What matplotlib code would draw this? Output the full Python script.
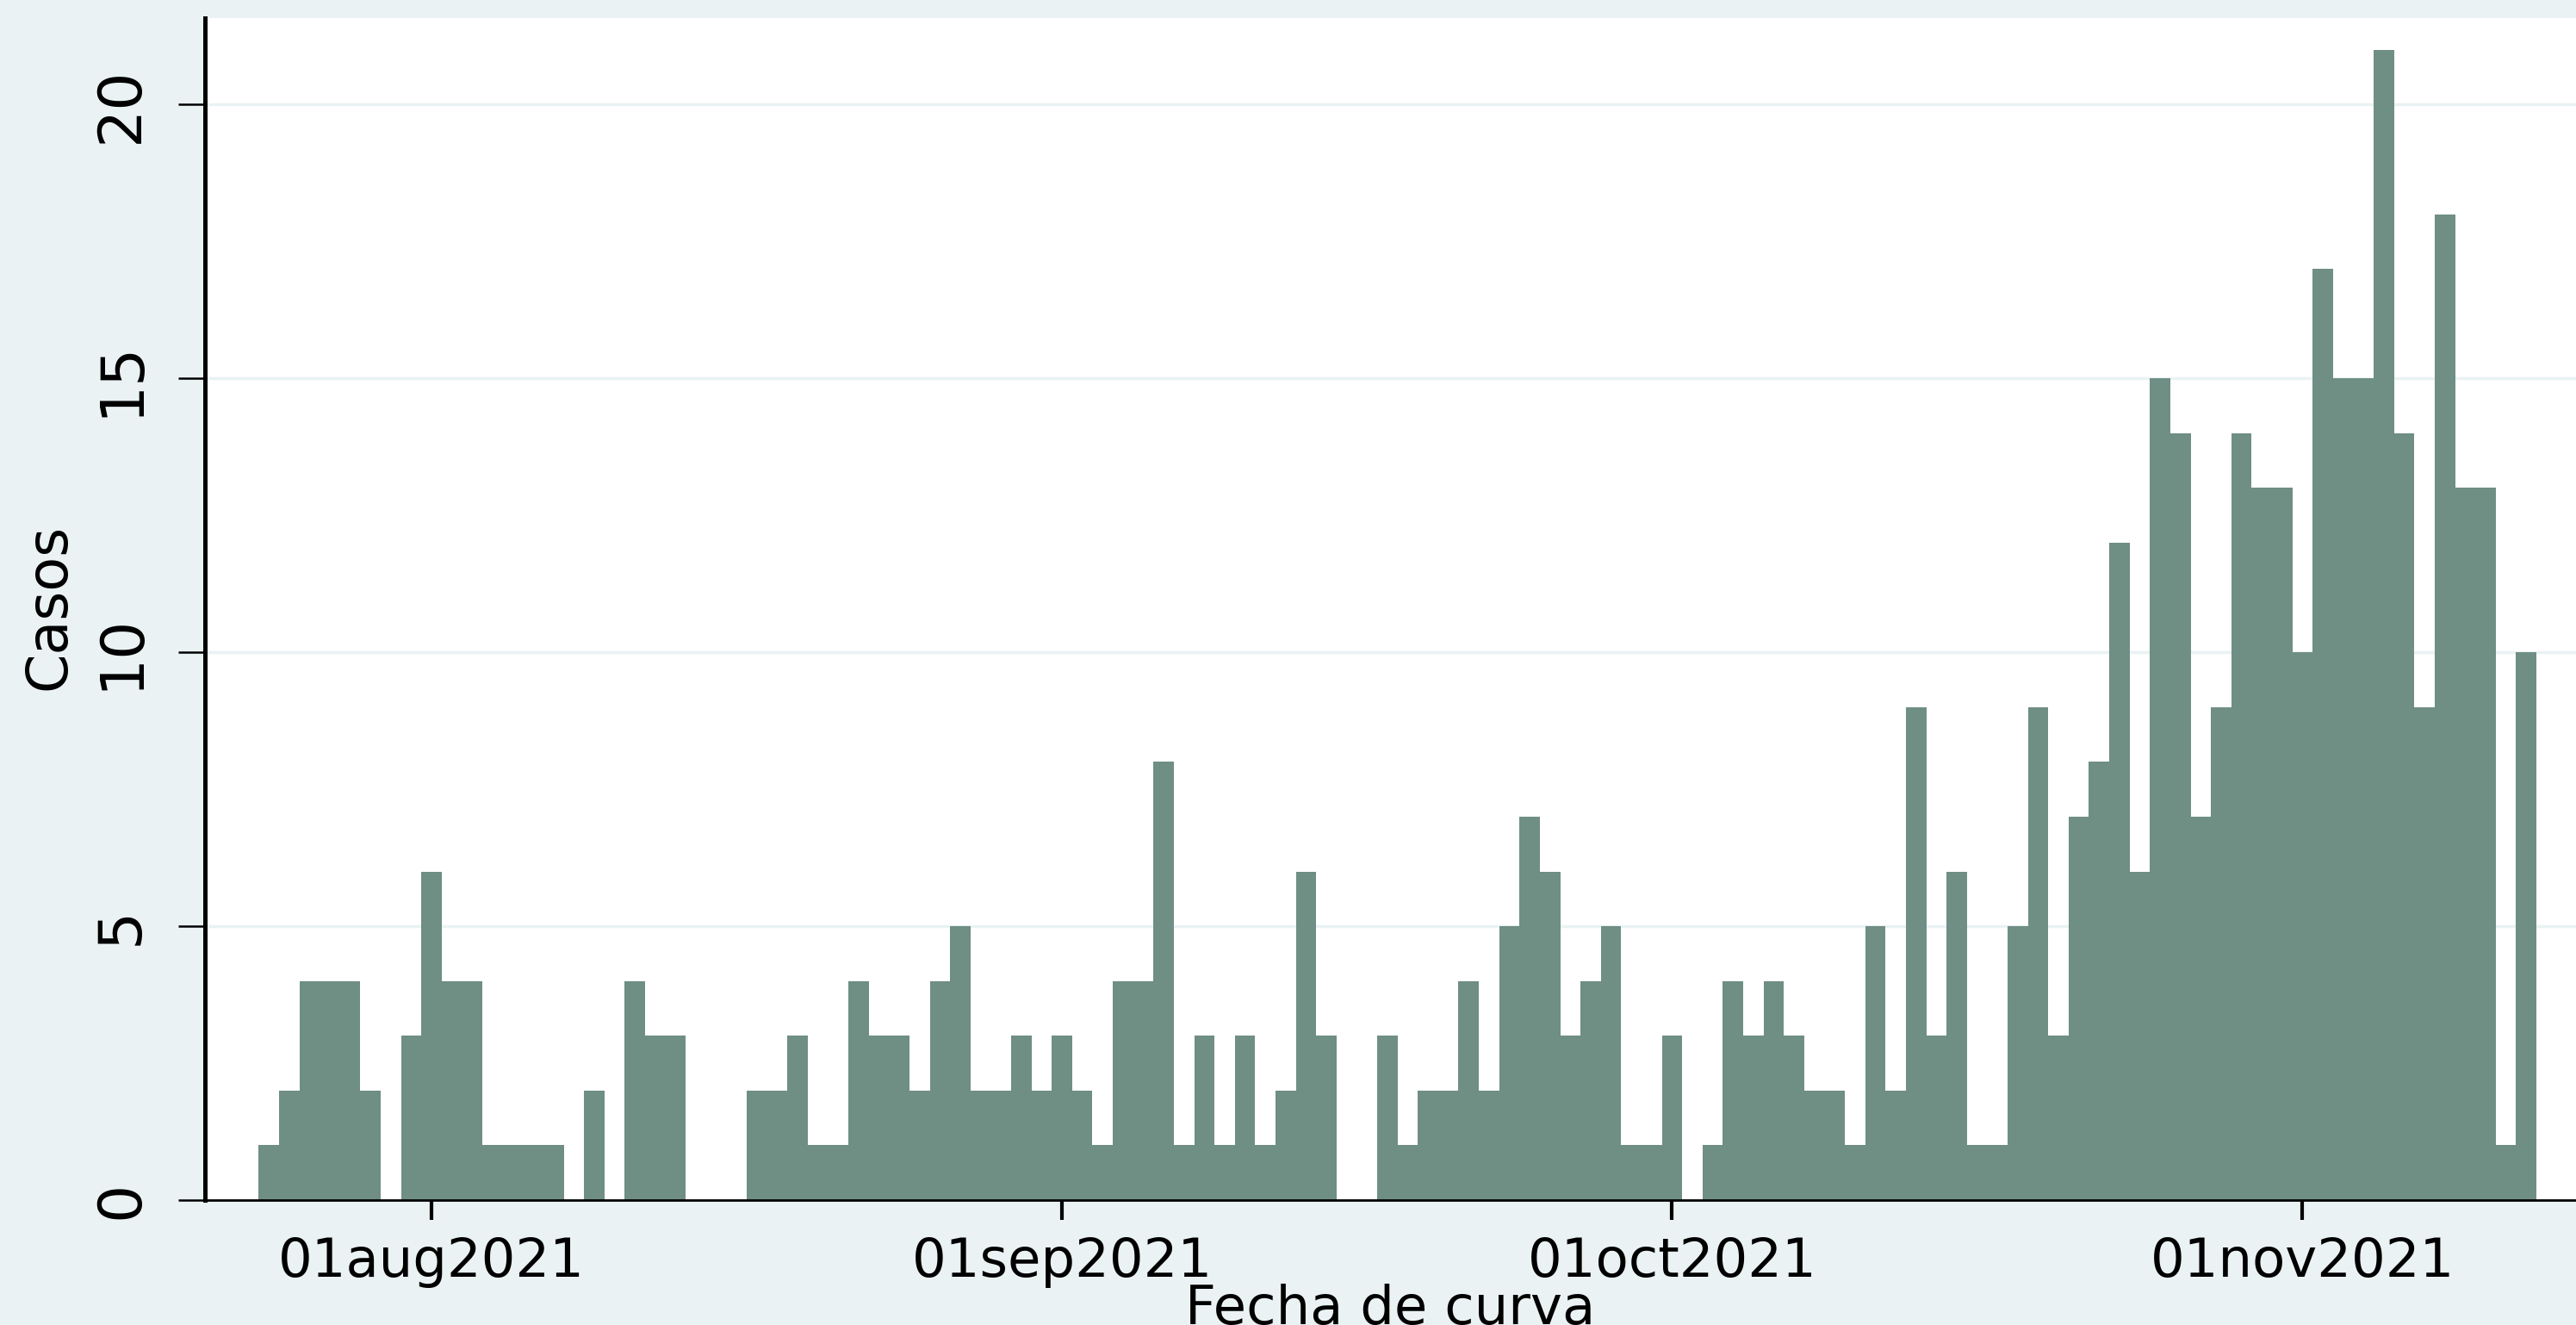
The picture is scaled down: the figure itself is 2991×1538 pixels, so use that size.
import datetime as dt
import matplotlib
matplotlib.use("Agg")
import matplotlib.pyplot as plt
import matplotlib.dates as mdates

# daily cases, 24jul2021 .. 12nov2021
first_day = dt.date(2021, 7, 24)
casos = [1, 2, 4, 4, 4, 2, 0, 3,                       # jul 24-31
         6, 4, 4, 1, 1, 1, 1, 0, 2, 0, 4, 3, 3, 0, 0, 0,  # aug 1-16
         2, 2, 3, 1, 1, 4, 3, 3, 2, 4, 5, 2, 2, 3, 2,     # aug 17-31
         3, 2, 1, 4, 4, 8, 1, 3, 1, 3, 1, 2, 6, 3, 0,     # sep 1-15
         0, 3, 1, 2, 2, 4, 2, 5, 7, 6, 3, 4, 5, 1, 1,     # sep 16-30
         3, 0, 1, 4, 3, 4, 3, 2, 2, 1, 5, 2, 9, 3, 6,     # oct 1-15
         1, 1, 5, 9, 3, 7, 8, 12, 6, 15, 14, 7, 9, 14, 13, 13,  # oct 16-31
         10, 17, 15, 15, 21, 14, 9, 18, 13, 13, 1, 10]    # nov 1-12
fechas = [first_day + dt.timedelta(days=i) for i in range(len(casos))]

tick_dates = [dt.date(2021, 8, 1), dt.date(2021, 9, 1), dt.date(2021, 10, 1), dt.date(2021, 11, 1)]
tick_labels = ["01aug2021", "01sep2021", "01oct2021", "01nov2021"]
y_ticks = [0, 5, 10, 15, 20]

bg = "#eaf2f3"
bar_color = "#6f8e84"

W, H = 2991, 1538
fig = plt.figure(figsize=(W / 100, H / 100), dpi=100, facecolor=bg)
ax = fig.add_axes([238 / W, 145 / H, (W - 238) / W, (1393 - 21) / H])
ax.set_facecolor("white")

ax.bar(fechas, casos, width=1.0, color=bar_color, linewidth=0, zorder=2)

ax.set_xlim(mdates.date2num(dt.date(2021, 8, 1)) - 11.14,
            mdates.date2num(dt.date(2021, 8, 1)) + 105.45)
ax.set_ylim(0, 21.58)

ax.set_yticks(y_ticks)
ax.set_yticklabels([str(v) for v in y_ticks], rotation=90, va="center", fontsize=50)
ax.yaxis.grid(True, color=bg, linewidth=2.5, zorder=0)
ax.set_axisbelow(True)
ax.set_xticks(tick_dates)
ax.set_xticklabels(tick_labels, fontsize=45)

ax.tick_params(axis="y", length=22, width=1.8, pad=24, color="black")
ax.tick_params(axis="x", length=16.5, width=3, pad=14, color="black")

for s in ("top", "right"):
    ax.spines[s].set_visible(False)
ax.spines["left"].set_linewidth(3.6)
ax.spines["bottom"].set_linewidth(2)
ax.spines["left"].set_zorder(3)
ax.spines["bottom"].set_zorder(3)

fig.text(57 / W, 1 - 704 / H, "Casos", rotation=90, ha="center", va="center", fontsize=47)
fig.text(1614 / W, 1 / H, "Fecha de curva", ha="center", va="baseline", fontsize=45)

fig.savefig("out.png", dpi=100, facecolor=bg)
